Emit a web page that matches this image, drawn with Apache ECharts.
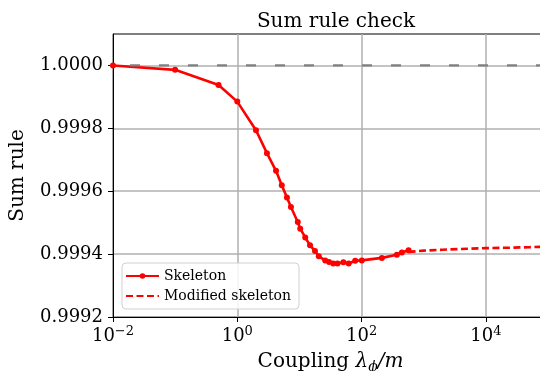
<!DOCTYPE html>
<html>
<head>
<meta charset="utf-8">
<script src="https://cdn.jsdelivr.net/npm/echarts@6/dist/echarts.min.js"></script>
<style>
  html, body { margin: 0; padding: 0; background: #fff; }
  #chart { width: 540px; height: 371px; }
</style>
</head>
<body>
<div id="chart"></div>
<script>
// Coupling values (λφ/m) and the sum rule for the skeleton solution
const skeletonX = [0.01, 0.1, 0.5, 1, 2, 3, 4.2, 5.2, 6.3, 7.3, 9.4, 10.3, 12.4, 14.8, 17.8, 20.5,
                   26, 30, 35, 41, 51, 62, 79, 101, 212, 370, 445, 570];
const skeletonY = [1.0000, 0.999986, 0.999938, 0.999885, 0.999794, 0.999721, 0.999665, 0.999619,
                   0.999580, 0.999550, 0.999502, 0.999481, 0.999453, 0.999428, 0.999410, 0.999393,
                   0.999380, 0.999375, 0.999370, 0.999370, 0.999374, 0.999370, 0.999379, 0.999380,
                   0.999388, 0.999398, 0.999405, 0.999412];

// Modified skeleton at large coupling
const modifiedX = [570, 1000, 2000, 5000, 10000, 20000, 50000, 100000];
const modifiedY = [0.999407, 0.999411, 0.999414, 0.999417, 0.999419, 0.999420, 0.999422, 0.999424];

// Reference level and axis ticks
const exactSumRule = 1.0;
const yTicks = [0.9992, 0.9994, 0.9996, 0.9998, 1.0000];
const xTicks = [0.01, 1, 100, 10000];

const serif = 'DejaVu Serif';
const supMap = {'-': '\u2212'};

const chart = echarts.init(document.getElementById('chart'), null, { renderer: 'canvas' });

chart.setOption({
  animation: false,
  title: {
    text: 'Sum rule check',
    left: 331,
    top: 7,
    textAlign: 'center',
    textStyle: { fontFamily: serif, fontSize: 20, fontWeight: 'normal', color: '#000' }
  },
  grid: {
    left: 113, top: 34, width: 435, height: 283,
    outerBoundsMode: 'none',
    containLabel: false,
    show: true, borderColor: '#000', borderWidth: 1, backgroundColor: 'transparent'
  },
  legend: {
    orient: 'vertical',
    left: 122, top: 263,
    padding: [6, 8, 6, 3],
    itemGap: 6,
    itemWidth: 33,
    itemHeight: 7,
    backgroundColor: 'rgba(255,255,255,0.85)',
    borderColor: '#d0d0d0',
    borderWidth: 1,
    borderRadius: 4,
    textStyle: { fontFamily: serif, fontSize: 14, color: '#000' },
    data: [
      { name: 'Skeleton' },
      { name: 'Modified skeleton', itemStyle: { opacity: 0 } }
    ]
  },
  xAxis: {
    type: 'log',
    logBase: 10,
    min: 0.01,
    max: 100000,
    interval: 2,
    name: 'Coupling {i|λ}{s|ϕ}{i|/m}',
    nameLocation: 'middle',
    nameGap: 33,
    nameTextStyle: {
      fontFamily: serif, fontSize: 20, color: '#000',
      rich: {
        i: { fontFamily: serif, fontStyle: 'italic', fontSize: 20 },
        s: { fontFamily: serif, fontStyle: 'italic', fontSize: 14, padding: [10, 0, 0, 0] }
      }
    },
    axisLine: { lineStyle: { color: '#000', width: 1 } },
    axisTick: { show: true, length: 5, lineStyle: { color: '#000' }, customValues: xTicks },
    minorTick: { show: false },
    axisLabel: {
      customValues: xTicks,
      margin: 8,
      formatter: function (v) {
        const e = Math.round(Math.log10(v));
        const s = String(e).split('').map(c => supMap[c] || c).join('');
        return '{b|10}{e|' + s + '}';
      },
      rich: {
        b: { fontFamily: serif, fontSize: 18, color: '#000' },
        e: { fontFamily: serif, fontSize: 13, color: '#000', padding: [0, 0, 9, 0] }
      }
    },
    splitLine: { show: true, lineStyle: { color: '#b0b0b0', width: 1.5 } }
  },
  yAxis: {
    type: 'value',
    min: 0.9992,
    max: 1.0001,
    interval: 0.0002,
    name: 'Sum rule',
    nameLocation: 'middle',
    nameGap: 85,
    nameTextStyle: { fontFamily: serif, fontSize: 20, color: '#000' },
    axisLine: { show: true, lineStyle: { color: '#000', width: 1 } },
    axisTick: { show: true, length: 5, lineStyle: { color: '#000' }, customValues: yTicks },
    axisLabel: {
      customValues: yTicks,
      margin: 10,
      fontFamily: serif, fontSize: 18, color: '#000',
      formatter: v => v.toFixed(4)
    },
    splitLine: { show: true, lineStyle: { color: '#b0b0b0', width: 1.5 } }
  },
  series: [
    {
      name: 'Skeleton',
      type: 'line',
      data: skeletonX.map((x, i) => [x, skeletonY[i]]),
      symbol: 'circle',
      symbolSize: 6,
      lineStyle: { color: '#ff0000', width: 2.6 },
      itemStyle: { color: '#ff0000' },
      z: 3
    },
    {
      name: 'Modified skeleton',
      type: 'line',
      data: modifiedX.map((x, i) => [x, modifiedY[i]]),
      symbol: 'none',
      lineStyle: { color: '#ff0000', width: 2.6, type: [7, 3.5] },
      itemStyle: { color: '#ff0000' },
      z: 3
    },
    {
      name: 'exact',
      type: 'line',
      data: [[skeletonX[0], exactSumRule], [modifiedX[modifiedX.length - 1], exactSumRule]],
      symbol: 'none',
      silent: true,
      lineStyle: { color: '#808080', width: 2.2, type: [10, 19], dashOffset: 12 },
      z: 4
    }
  ]
});
</script>
</body>
</html>
